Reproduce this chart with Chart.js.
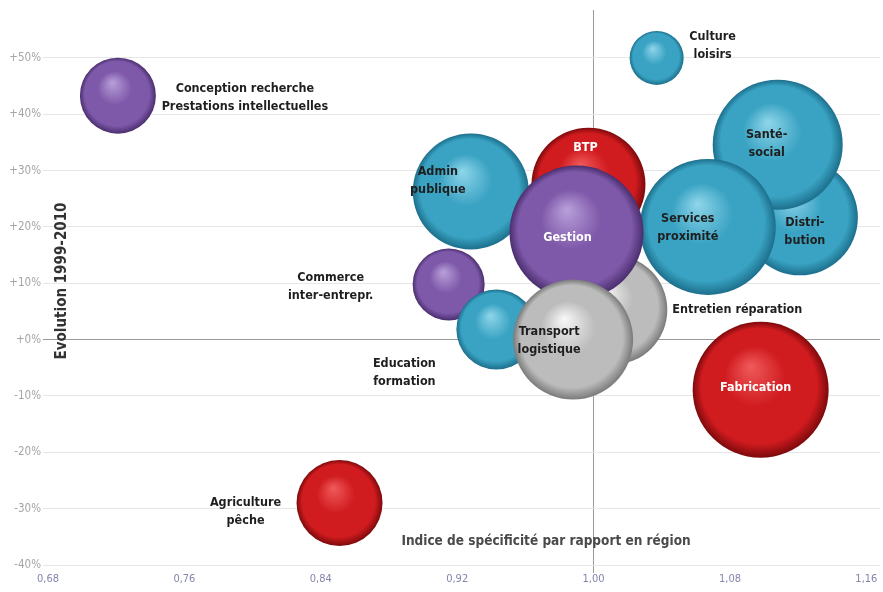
<!DOCTYPE html>
<html>
<head>
<meta charset="utf-8">
<script src="https://cdn.jsdelivr.net/npm/chart.js@4"></script>
<style>
  body { margin: 0; background: #fff; }
  #cadre { width: 883px; height: 592px; }
</style>
</head>
<body>
<div id="cadre"><canvas id="myChart"></canvas></div>
<script>
/* secteurs, du plus en arriere au plus en avant */
const secteurs = ['Distri-|bution', 'Santé-|social', 'Services|proximité', 'Entretien réparation', 'BTP',
    'Admin|publique', 'Gestion', 'Commerce|inter-entrepr.', 'Education|formation', 'Transport|logistique',
    'Fabrication', 'Culture|loisirs', 'Conception recherche|Prestations intellectuelles', 'Agriculture|pêche']

/* indice de specificite (axe x) */
const indices = [1.121, 1.108, 1.067, 1.011, 0.997, 0.928, 0.990, 0.915, 0.943, 0.988, 1.098, 1.037, 0.721, 0.851]

/* evolution 1999-2010 en % (axe y) */
const evolutions = [21.7, 34.6, 20, 5.3, 27.5, 26.3, 19, 9.8, 1.8, 0, -8.9, 50, 43.3, -29]

/* taille des bulles */
const tailles = [58, 65, 68, 55, 57, 58, 67, 36, 40, 60, 68, 27, 38, 43]

/* famille de couleur de chaque bulle */
const familles = ['bleu', 'bleu', 'bleu', 'gris', 'rouge', 'bleu', 'violet', 'violet', 'bleu', 'gris',
    'rouge', 'bleu', 'violet', 'rouge']

const ticksX = [0.68, 0.76, 0.84, 0.92, 1.00, 1.08, 1.16]
const ticksY = [-40, -30, -20, -10, 0, 10, 20, 30, 40, 50]

/* reflet, teinte, ombre */
const teintes = {
    bleu: ['#8fd6ea', '#3aa3c3', '#1c6f8c'],
    violet: ['#b9a0da', '#7e58a9', '#4a2e6e'],
    rouge: ['#f05a5a', '#d01b1f', '#7c0a0c'],
    gris: ['#f8f8f8', '#bcbcbc', '#7a7a7a']
}

/* decalage des etiquettes par rapport au centre de la bulle */
const decalages = [[5, 14], [-11, -1], [-20, 1], [125, 0], [-3, -37], [-33, -11], [-9, 5], [-118, 2],
    [-92, 43], [-24, 1], [-5, -2], [56, -12], [127, 2], [-94, 9]]
const enBlanc = ['BTP', 'Gestion', 'Fabrication']

const police = "'Liberation Sans Narrow', 'DejaVu Sans Condensed', sans-serif"

/* effet de sphere: degrade radial pose sur chaque bulle juste avant le dessin */
const spheres = {
    id: 'spheres',
    beforeDatasetsDraw(chart){
        const ctx = chart.ctx
        chart.getDatasetMeta(0).data.forEach((el, i) => {
            const r = el.options.radius
            if (!isFinite(el.x) || !isFinite(el.y) || !(r > 0)) return
            const t = teintes[familles[i]]
            const g = ctx.createRadialGradient(el.x - r * 0.15, el.y - r * 0.35, 0, el.x, el.y, r)
            g.addColorStop(0, t[0])
            g.addColorStop(0.45, t[1])
            g.addColorStop(0.85, t[1])
            g.addColorStop(1, t[2])
            el.options.backgroundColor = g
        })
    }
}

const etiquettes = {
    id: 'etiquettes',
    afterDatasetsDraw(chart){
        const ctx = chart.ctx
        const meta = chart.getDatasetMeta(0)
        ctx.save()
        ctx.textAlign = 'center'
        ctx.textBaseline = 'middle'
        ctx.font = 'bold 12.5px ' + police
        meta.data.forEach((el, i) => {
            const lignes = secteurs[i].split('|')
            const d = decalages[i]
            const h = 18
            ctx.fillStyle = enBlanc.includes(secteurs[i]) ? '#ffffff' : '#1e1e1e'
            lignes.forEach((l, k) => {
                ctx.fillText(l, el.x + d[0], el.y + d[1] + (k - (lignes.length - 1) / 2) * h)
            })
        })
        /* titres des axes dans la zone du graphique */
        ctx.fillStyle = '#4a4a4a'
        ctx.font = 'bold 13.5px ' + police
        ctx.fillText('Indice de spécificité par rapport en région', 546, 541)
        ctx.fillStyle = '#333'
        ctx.font = 'bold 15px ' + police
        ctx.translate(62, 281)
        ctx.rotate(-Math.PI / 2)
        ctx.fillText('Evolution 1999-2010', 0, 0)
        ctx.restore()
    }
}

function grafico_Bulles(){
    const ctx = document.getElementById('myChart')
    const points = indices.map((v, i) => ({x: v, y: evolutions[i], r: tailles[i]}))

    new Chart(ctx, {
        type: 'bubble',
        data: {
            datasets: [{
                data: points,
                backgroundColor: (c) => teintes[familles[c.dataIndex]][1],
                borderWidth: 0,
                clip: false
            }]
        },
        options: {
            responsive: true,
            maintainAspectRatio: false,
            animation: false,
            events: [],
            layout: {autoPadding: false, padding: {top: 10, right: 3, left: 0, bottom: 0}},
            plugins: {legend: {display: false}, tooltip: {enabled: false}},
            scales: {
                x: {
                    type: 'linear',
                    min: 0.68,
                    max: 1.168,
                    afterBuildTicks: (s) => { s.ticks = ticksX.map(v => ({value: v})) },
                    afterFit: (s) => { s.height = 27 },
                    border: {display: false},
                    grid: {
                        color: (c) => (c.tick && Math.abs(c.tick.value - 1) < 1e-6) ? '#9a9a9a' : 'rgba(0,0,0,0)',
                        tickLength: 8
                    },
                    ticks: {
                        padding: 0,
                        color: '#8585ad',
                        font: {family: police, size: 11},
                        callback: (v) => Number(v).toFixed(2).replace('.', ',')
                    }
                },
                y: {
                    min: -40,
                    max: 58.5,
                    afterBuildTicks: (s) => { s.ticks = ticksY.map(v => ({value: v})) },
                    afterFit: (s) => { s.width = 48 },
                    border: {display: false},
                    grid: {
                        color: (c) => (c.tick && c.tick.value === 0) ? '#9a9a9a' : '#e6e6e6',
                        tickLength: 5
                    },
                    ticks: {
                        padding: 2,
                        color: '#a5a5a5',
                        font: {family: police, size: 11.5},
                        callback: (v) => (v >= 0 ? '+' : '') + v + '%'
                    }
                }
            }
        },
        plugins: [spheres, etiquettes]
    })
}

grafico_Bulles()
</script>
</body>
</html>
